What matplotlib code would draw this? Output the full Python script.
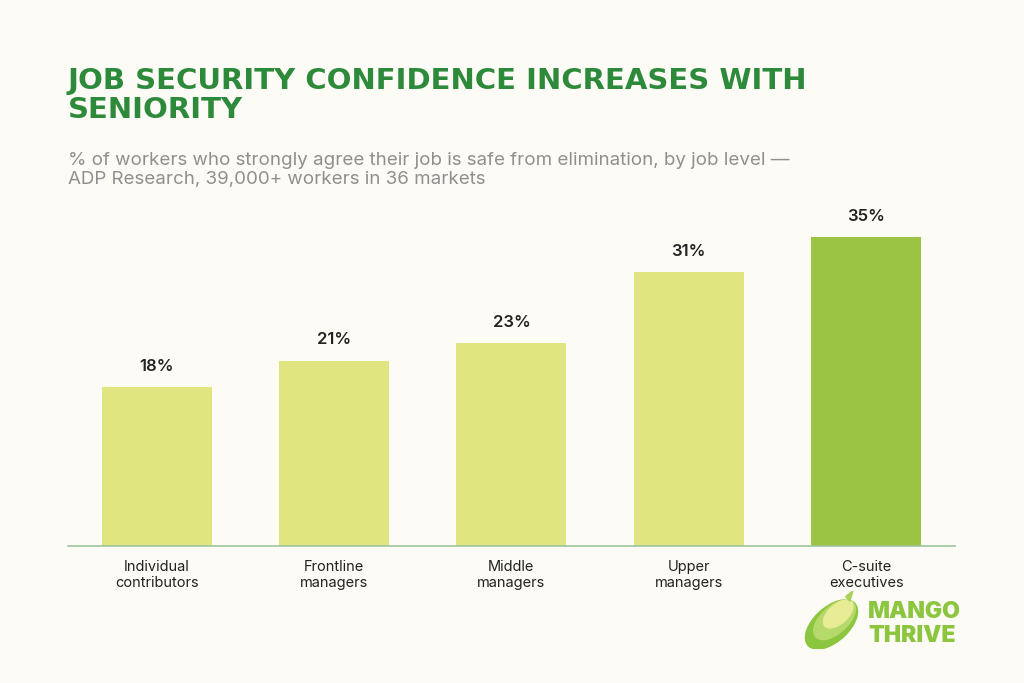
import matplotlib.pyplot as plt
from matplotlib.patches import Ellipse, Polygon

# data
levels = ["Individual\ncontributors", "Frontline\nmanagers", "Middle\nmanagers",
          "Upper\nmanagers", "C-suite\nexecutives"]
pct = [18, 21, 23, 31, 35]
value_labels = ["18%", "21%", "23%", "31%", "35%"]

bg = "#FCFBF6"
light = "#E0E57F"
dark = "#9CC443"
green_title = "#2E8A3B"

plt.rcParams['font.family'] = ['Inter', 'DejaVu Sans']

fig = plt.figure(figsize=(10.24, 6.83), dpi=100, facecolor=bg)
ax = fig.add_axes([0.0664, 0.2006, 0.866, 0.517])
ax.set_facecolor(bg)

colors = [light] * (len(pct) - 1) + [dark]
x = list(range(len(pct)))
bars = ax.bar(x, pct, width=0.62, color=colors, zorder=2)

for b, lab in zip(bars, value_labels):
    ax.text(b.get_x() + b.get_width() / 2, b.get_height() + 1.5, lab,
            ha="center", va="bottom", fontsize=12, fontweight="semibold",
            color="#222222")

ax.set_xlim(-0.5, len(pct) - 0.5)
ax.set_ylim(0, 40)
ax.set_yticks([])
ax.set_xticks(x)
ax.set_xticklabels(levels, fontsize=10.5, color="#222222", linespacing=1.2)
ax.tick_params(axis="x", length=0, pad=10)
for s in ["top", "right", "left"]:
    ax.spines[s].set_visible(False)
ax.spines["bottom"].set_color("#9DC59D")
ax.spines["bottom"].set_linewidth(1.2)

# titles
fig.text(0.0664, 0.902, "JOB SECURITY CONFIDENCE INCREASES WITH\nSENIORITY",
         fontsize=21, fontweight="bold", color=green_title,
         family="DejaVu Sans", ha="left", va="top", linespacing=1.06)
fig.text(0.0664, 0.778, "% of workers who strongly agree their job is safe from elimination, by job level \u2014\nADP Research, 39,000+ workers in 36 markets",
         fontsize=13.5, color="#8F8F8F", ha="left", va="top", linespacing=1.2)

# logo
lax = fig.add_axes([0.785, 0.05, 0.06, 0.085])
lax.set_xlim(0, 1)
lax.set_ylim(0, 1)
lax.axis("off")
lax.add_patch(Ellipse((0.45, 0.42), 0.58, 1.05, angle=-45, color="#8CC63F"))
lax.add_patch(Ellipse((0.5, 0.5), 0.45, 0.85, angle=-45, color="#B5D96A"))
lax.add_patch(Ellipse((0.56, 0.6), 0.32, 0.6, angle=-45, color="#E8EC94"))
lax.add_patch(Polygon([[0.68, 0.9], [0.8, 1.0], [0.75, 0.82]], color="#A9D15A"))
fig.text(0.848, 0.0864, "MANGO\nTHRIVE", fontsize=16.5, fontweight="black",
         color="#8CC63F", ha="left", va="center", linespacing=1.1)

fig.savefig("out.png", dpi=100, facecolor=bg)
